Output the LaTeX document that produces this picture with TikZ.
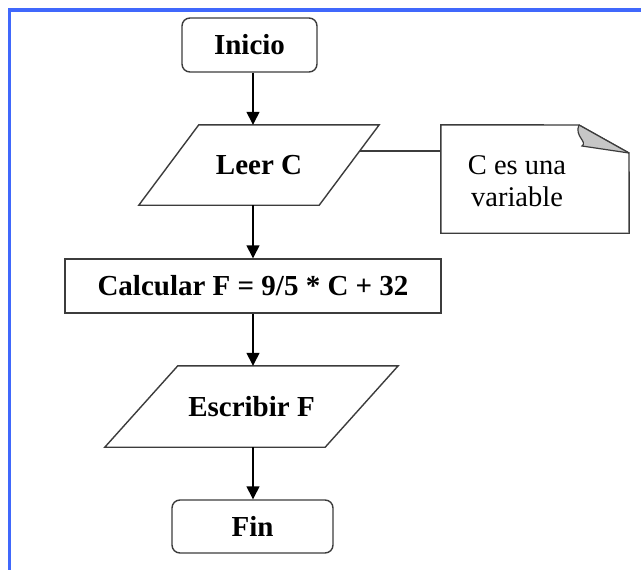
\documentclass[tikz,border=0pt]{standalone}
\usepackage{fontspec}
\setmainfont{Liberation Serif}
\usetikzlibrary{arrows.meta}
\definecolor{frameblue}{RGB}{64,104,252}
\definecolor{edge}{RGB}{60,60,60}
\begin{document}
\begin{tikzpicture}[x=1pt,y=-1pt,
  lbl/.style={font=\fontsize{29}{33}\selectfont\bfseries, inner sep=0pt},
  term/.style={lbl, draw=edge, line width=1.4pt, rounded corners=8pt, fill=white},
  procbox/.style={lbl, draw=edge, line width=1.4pt, fill=white},
  iobox/.style={lbl, shape=rectangle},
  flow/.style={line width=1.4pt, -{Triangle[length=13pt,width=13pt]}},
  shapeline/.style={draw=edge, line width=1.4pt},
  notetext/.style={font=\fontsize{28.5}{32}\selectfont, inner sep=0pt, align=center}
]
\useasboundingbox (0,0) rectangle (641,570);
\fill[white] (0,0) rectangle (641,570);
% blue frame
\draw[frameblue, line width=3.5pt] (9.5,572) -- (9.5,10) -- (643,10);

\coordinate (ax) at (253,0);

% nodes
\node[term, minimum width=135pt, minimum height=54pt] (ini) at (249.5,45) {Inicio};

\node[iobox, minimum width=180pt, minimum height=80pt] (le) at (259,165) {};
\draw[shapeline, fill=white] ([xshift=30pt]le.north west) -- ([xshift=30pt]le.north east)
  -- ([xshift=-30pt]le.south east) -- ([xshift=-30pt]le.south west) -- cycle;
\node[lbl] at (le) {Leer C};

\node[procbox, minimum width=376pt, minimum height=54pt] (calc) at (253,286) {Calcular F = 9/5 * C + 32};

\node[iobox, minimum width=220pt, minimum height=81pt] (esc) at (251.5,406.5) {};
\draw[shapeline, fill=white] ([xshift=36.5pt]esc.north west) -- ([xshift=36.5pt]esc.north east)
  -- ([xshift=-36.5pt]esc.south east) -- ([xshift=-36.5pt]esc.south west) -- cycle;
\node[lbl] at (esc) {Escribir F};

\node[term, minimum width=161pt, minimum height=53pt] (fin) at (252.5,526.5) {Fin};

% note
\node[minimum width=188pt, minimum height=108pt, inner sep=0pt] (note) at (535,179) {};
\draw[shapeline, fill=white] (note.south west) -- (note.north west) -- (579,125) -- (629,153) -- (note.south east) -- cycle;
\fill[gray!45] (579,125) .. controls (574,136) and (588,142) .. (582,146) -- (629,153) -- cycle;
\draw[edge, line width=1.2pt] (579,125) .. controls (574,136) and (588,142) .. (582,146) -- (629,153);
\draw[edge, line width=1.2pt] (579,125) -- (629,153);
\node[notetext] (nt) at (517,181) {C es una\\variable};

% connector to note
\coordinate (lec) at (360,151);
\draw[edge, line width=1.4pt] (lec) -- (note.west |- lec);

% flow arrows
\draw[flow] (ax |- ini.south) -- (ax |- le.north);
\draw[flow] (ax |- le.south) -- (ax |- calc.north);
\draw[flow] (ax |- calc.south) -- (ax |- esc.north);
\draw[flow] (ax |- esc.south) -- (ax |- fin.north);
\end{tikzpicture}
\end{document}
